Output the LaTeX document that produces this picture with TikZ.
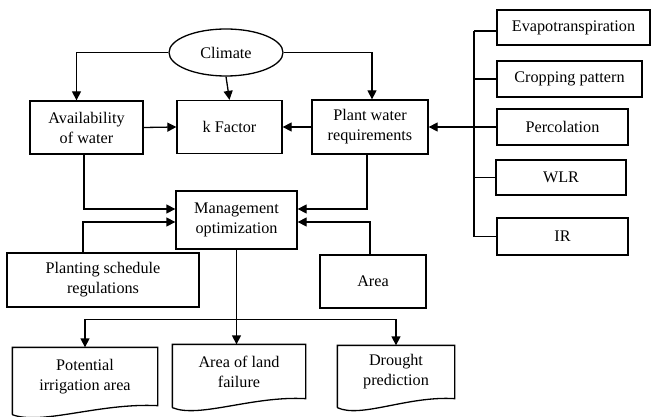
\documentclass[tikz,border=0pt]{standalone}
\usepackage{fontspec}
\setmainfont{Liberation Serif}
\usetikzlibrary{shapes.geometric,arrows.meta,calc}
\newcommand{\docwave}[1]{\draw ($(#1.south west)+(0,9)$) -- (#1.north west) -- (#1.north east) -- (#1.south east)
  .. controls ($(#1.south east)!0.4!(#1.south west)+(0,-3)$) and ($(#1.south east)!0.8!(#1.south west)+(0,20)$) .. ($(#1.south west)+(0,9)$);}
\begin{document}
\begin{tikzpicture}[x=1pt,y=-1pt,line width=1.3pt,
  font=\fontsize{16.2}{20}\selectfont,
  box/.style={draw,rectangle,inner sep=0pt,align=center},
  docbox/.style={rectangle,inner sep=0pt,align=center},
  arr/.style={-{Triangle[length=9pt,width=9pt]}}]
\useasboundingbox (0,0) rectangle (651,417);

\node[draw,ellipse,inner sep=0pt,minimum width=114pt,minimum height=47pt] (climate) at (226,52.5) {Climate};
\node[box,minimum width=113pt,minimum height=53pt] (avail) at (86.5,127.5) {Availability\\of water};
\node[box,minimum width=105pt,minimum height=53pt] (kf) at (229.5,127) {k Factor};
\node[box,minimum width=116pt,minimum height=54pt] (plant) at (370,127) {Plant water\\requirements};
\node[box,minimum width=121pt,minimum height=58pt] (mgmt) at (236.5,220) {Management\\optimization};
\node[box,minimum width=192pt,minimum height=54pt] (plan) at (103,280) {Planting schedule\\regulations};
\node[box,minimum width=106pt,minimum height=53pt] (area) at (373,281.5) {Area};

\node[box,minimum width=153pt,minimum height=35pt] (evap) at (573.5,27.5) {Evapotranspiration};
\node[box,minimum width=145pt,minimum height=36pt] (crop) at (569.5,79) {Cropping pattern};
\node[box,minimum width=131pt,minimum height=36pt] (perc) at (562.5,127) {Percolation};
\node[box,minimum width=130pt,minimum height=35pt] (wlr) at (561,177.5) {WLR};
\node[box,minimum width=131pt,minimum height=37pt] (ir) at (562.5,236.5) {IR};

\node[docbox,minimum width=144pt,minimum height=57pt] (pot) at (85,376.5) {Potential\\irrigation area};
\node[docbox,minimum width=132pt,minimum height=53pt] (land) at (239,371.5) {Area of land\\failure};
\node[docbox,minimum width=116pt,minimum height=52pt] (drought) at (396,372) {Drought\\prediction};
\docwave{pot}
\docwave{land}
\docwave{drought}

% climate connectors
\draw[arr] (climate.west) -| ([xshift=-10pt]avail.north);
\draw[arr] (climate.east) -| ([xshift=2pt]plant.north);
\draw[arr] (climate.south) -- (kf.north);
\draw[arr] (avail.east) -- (kf.west);
\draw[arr] (plant.west) -- (kf.east);

% right bus
\coordinate (bt) at (474,31);
\coordinate (bb) at (474,236.5);
\draw (bt) -- (bb);
\draw (evap.west |- bt) -- (bt);
\draw (crop.west) -- (crop.west -| bt);
\draw (perc.west) -- (perc.west -| bt);
\draw (wlr.west) -- (wlr.west -| bt);
\draw (ir.west) -- (ir.west -| bt);
\draw[arr] (plant.east -| bt) -- (plant.east);

% into management
\draw[arr] ([xshift=-2.5pt]avail.south) |- ([yshift=11pt]mgmt.west);
\draw[arr] ([xshift=-20pt]plan.north) |- ([yshift=-2pt]mgmt.west);
\draw[arr] ([xshift=-3pt]plant.south) |- ([yshift=11pt]mgmt.east);
\draw[arr] ([xshift=-3pt]area.north) |- ([yshift=-2pt]mgmt.east);

% outputs
\coordinate (split) at ($(mgmt.south)+(0,70)$);
\draw[arr] (mgmt.south) -- (mgmt.south |- land.north);
\draw[arr] (split) -| (pot.north);
\draw[arr] (split) -| (drought.north);
\end{tikzpicture}
\end{document}
